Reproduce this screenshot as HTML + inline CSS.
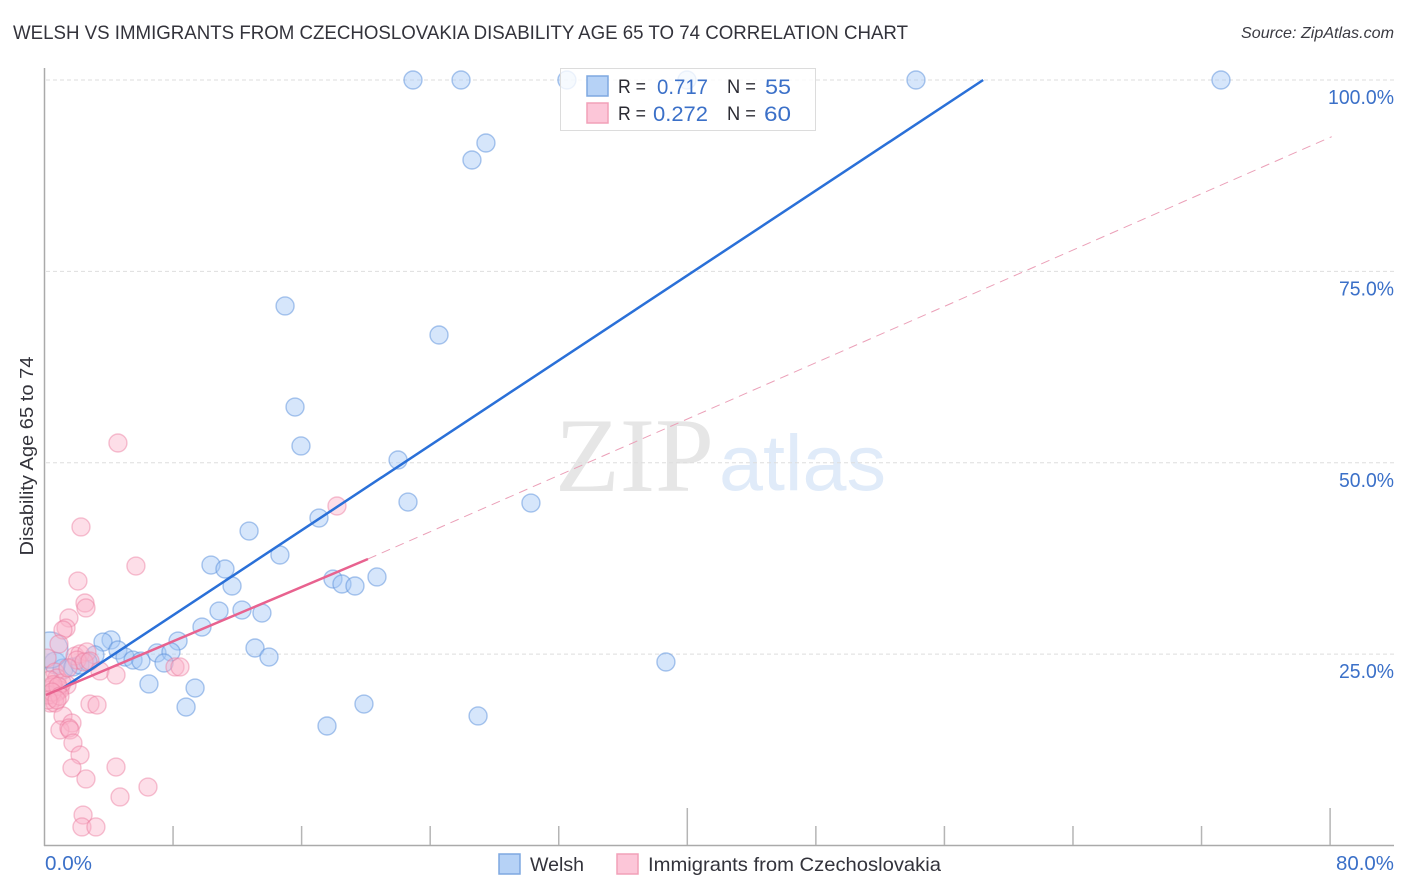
<!DOCTYPE html>
<html lang="en">
<head>
<meta charset="utf-8">
<title>Welsh vs Immigrants from Czechoslovakia Disability Age 65 to 74 Correlation Chart</title>
<style>
html,body{margin:0;padding:0;background:#fff;width:1406px;height:892px;overflow:hidden}
svg{display:block;font-family:"Liberation Sans",sans-serif}
</style>
</head>
<body>
<svg id="chart" width="1406" height="892" viewBox="0 0 1406 892" xmlns="http://www.w3.org/2000/svg">
  <defs><clipPath id="plot-clip"><rect x="45" y="60" width="1349" height="785"/></clipPath></defs>
  <text x="13" y="39" font-size="19" fill="#33333b" textLength="895" lengthAdjust="spacingAndGlyphs">WELSH VS IMMIGRANTS FROM CZECHOSLOVAKIA DISABILITY AGE 65 TO 74 CORRELATION CHART</text>
  <text x="1241" y="38" font-size="16" font-style="italic" fill="#3a3a42" textLength="153" lengthAdjust="spacingAndGlyphs">Source: ZipAtlas.com</text>
  <g>
    <text x="555" y="491" font-family="'Liberation Serif',serif" font-size="106" fill="#e6e6e6" textLength="159" lengthAdjust="spacingAndGlyphs">ZIP</text>
    <text x="719" y="490" font-size="79" fill="#e0ebf9" textLength="167" lengthAdjust="spacingAndGlyphs">atlas</text>
  </g>
  <g id="grid"></g>
  <g id="points" clip-path="url(#plot-clip)"></g>
  <g id="trends"></g>
  <g id="axes"></g>
  <text transform="translate(33 456) rotate(-90)" font-size="18.5" fill="#33333b" text-anchor="middle" textLength="199" lengthAdjust="spacingAndGlyphs">Disability Age 65 to 74</text>

  <g>
    <rect x="560.5" y="68.5" width="255" height="62" fill="#fff" fill-opacity="0.78" stroke="#dcdcdc"/>
    <rect x="587" y="76" width="21" height="20" fill="#b6d2f6" stroke="#7ea8e0" stroke-width="1.5"/>
    <rect x="587" y="103" width="21" height="20" fill="#fcc6d8" stroke="#f2a0b8" stroke-width="1.5"/>
    <text x="618" y="93" font-size="19.5" fill="#2b2b33" textLength="28" lengthAdjust="spacingAndGlyphs">R =</text>
    <text x="657" y="94" font-size="21.5" fill="#3b70c8" textLength="51" lengthAdjust="spacingAndGlyphs">0.717</text>
    <text x="727" y="93" font-size="19.5" fill="#2b2b33" textLength="29" lengthAdjust="spacingAndGlyphs">N =</text>
    <text x="765" y="94" font-size="21.5" fill="#3b70c8" textLength="26" lengthAdjust="spacingAndGlyphs">55</text>
    <text x="618" y="120" font-size="19.5" fill="#2b2b33" textLength="28" lengthAdjust="spacingAndGlyphs">R =</text>
    <text x="653" y="121" font-size="21.5" fill="#3b70c8" textLength="55" lengthAdjust="spacingAndGlyphs">0.272</text>
    <text x="727" y="120" font-size="19.5" fill="#2b2b33" textLength="29" lengthAdjust="spacingAndGlyphs">N =</text>
    <text x="764" y="121" font-size="21.5" fill="#3b70c8" textLength="27" lengthAdjust="spacingAndGlyphs">60</text>
  </g>

  <g>
    <g>
      <rect x="499" y="854" width="21" height="20" fill="#b6d2f6" stroke="#7ea8e0" stroke-width="1.5"/>
      <text x="530" y="871" font-size="19.5" fill="#33333b" textLength="54" lengthAdjust="spacingAndGlyphs">Welsh</text>
    </g>
    <g>
      <rect x="617" y="854" width="21" height="20" fill="#fcc6d8" stroke="#f2a0b8" stroke-width="1.5"/>
      <text x="648" y="871" font-size="19.5" fill="#33333b" textLength="293" lengthAdjust="spacingAndGlyphs">Immigrants from Czechoslovakia</text>
    </g>
  </g>
</svg>
<script>
const yTickValues = [25, 50, 75, 100];
const yTickLabels = ["25.0%", "50.0%", "75.0%", "100.0%"];
const xTickValues = [0, 8, 16, 24, 32, 40, 48, 56, 64, 72, 80];
const xEdgeLabels = ["0.0%", "80.0%"];
const welshX = [22.93,25.92,32.51,39.98,54.23,73.21,27.47,26.60,14.97,24.55,15.59,15.96,22.0,22.62,30.27,17.08,12.73,14.65,10.36,11.23,11.67,17.95,18.51,19.32,20.69,10.86,12.29,13.53,9.80,8.31,4.14,3.64,4.57,5.01,5.51,6.0,7.0,7.87,7.44,3.14,6.5,9.37,8.81,13.1,13.97,38.67,19.88,26.98,17.58,0.65,1.15,1.77,2.21,2.71,0.34];
const welshY = [100,100,100,100,100,100,91.77,89.55,70.48,66.69,57.28,52.19,50.36,44.87,44.74,42.78,41.08,37.95,36.64,36.12,33.90,34.81,34.16,33.90,35.08,30.63,30.76,30.37,28.54,26.71,26.85,26.58,25.54,24.62,24.23,24.10,25.15,25.28,23.84,24.89,21.1,20.57,18.09,25.8,24.62,23.97,18.48,16.92,15.61,23.84,23.06,23.32,23.58,23.97,25.54];
const welshWeight = [1,1,1,1,1,1,1,1,1,1,1,1,1,1,1,1,1,1,1,1,1,1,1,1,1,1,1,1,1,1,1,1,1,1,1,1,1,1,1,1,1,1,1,1,1,1,1,1,1,1.2,1.1,1,1,1,2];
const czechX = [4.57,18.2,2.27,5.69,2.08,2.52,2.58,1.52,1.34,1.15,0.9,0.16,1.9,2.21,2.64,2.02,2.46,2.83,3.45,4.45,8.12,8.43,0.65,0.78,0.34,1.4,0.34,0.96,0.47,0.78,0.65,0.34,0.65,0.47,1.09,0.22,2.83,3.27,1.15,1.71,0.96,1.52,1.59,1.77,2.21,1.71,2.58,4.45,6.44,4.7,2.4,2.33,3.2,0.53,0.84,0.47,0.96,0.22,0.78,1.46];
const czechY = [52.58,44.35,41.61,36.51,34.55,31.68,31.03,29.72,28.41,28.15,26.32,24.49,24.75,25.02,25.28,24.23,23.97,24.1,22.8,22.27,23.32,23.32,22.66,21.88,21.62,20.97,20.31,20.31,19.66,20.05,19.27,18.61,18.61,20.71,21.23,19.66,18.48,18.35,16.92,16.0,15.09,15.35,15.09,13.39,11.82,10.12,8.69,10.25,7.64,6.34,3.98,2.42,2.42,21.0,20.8,20.05,19.5,19.0,19.0,23.2];
const welshTrendX = [1.15, 58.41];
const welshTrendY = [20.58, 100];
const czechSolidX = [0.09, 20.13];
const czechSolidY = [19.66, 37.43];
const czechDashX = [20.13, 80.1];
const czechDashY = [37.43, 92.6];

const sx = v => 44.5 + v * 16.07;
const sy = v => 845.5 - v * 7.655;
const NS = "http://www.w3.org/2000/svg";
function make(tag, parent, attrs, txt) {
  const el = document.createElementNS(NS, tag);
  for (const k in attrs) el.setAttribute(k, attrs[k]);
  if (txt !== undefined) el.textContent = txt;
  parent.appendChild(el);
  return el;
}
const grid = document.getElementById("grid");
const axes = document.getElementById("axes");
const points = document.getElementById("points");
const trends = document.getElementById("trends");

yTickValues.forEach((v, i) => {
  const g = make("line", grid, {x1: 46, x2: 1394, y1: sy(v), y2: sy(v), stroke: "#dedede", "stroke-width": 1, "stroke-dasharray": "4 3"});
  
  
  const t = make("text", axes, {x: 1394, y: sy(v) + 24, "font-size": 20, fill: "#3b70c8", "text-anchor": "end", textLength: yTickLabels[i].length * 11, lengthAdjust: "spacingAndGlyphs"}, yTickLabels[i]);
  
  
});

const yAxis = make("line", axes, {x1: 44.5, x2: 44.5, y1: 68, y2: 846, stroke: "#aaa", "stroke-width": 1.5});


const xAxis = make("line", axes, {x1: 44, x2: 1394, y1: 845.5, y2: 845.5, stroke: "#aaa", "stroke-width": 1.5});


xTickValues.forEach(v => {
  if (v === 0) return;
  const top = v % 40 === 0 ? 808 : 826;
  const tk = make("line", axes, {x1: sx(v), x2: sx(v), y1: top, y2: 845, stroke: "#b5b5b5", "stroke-width": 1.5});
  
  
});
const xl0 = make("text", axes, {x: 45, y: 870, "font-size": 20, fill: "#3b70c8", textLength: 47, lengthAdjust: "spacingAndGlyphs"}, xEdgeLabels[0]);


const xl1 = make("text", axes, {x: 1394, y: 870, "font-size": 20, fill: "#3b70c8", "text-anchor": "end", textLength: 58, lengthAdjust: "spacingAndGlyphs"}, xEdgeLabels[1]);



welshX.forEach((v, i) => {
  const c = make("circle", points, {cx: sx(v), cy: sy(welshY[i]), r: 9 * welshWeight[i], fill: "#a5c8f7", "fill-opacity": 0.45, stroke: "#5a90dc", "stroke-opacity": 0.5, "stroke-width": 1.4});
  
  
});
czechX.forEach((v, i) => {
  const c = make("circle", points, {cx: sx(v), cy: sy(czechY[i]), r: 9, fill: "#fab0c8", "fill-opacity": 0.42, stroke: "#ea7a9e", "stroke-opacity": 0.45, "stroke-width": 1.4});
  
  
});

const l1 = make("line", trends, {x1: sx(welshTrendX[0]), y1: sy(welshTrendY[0]), x2: sx(welshTrendX[1]), y2: sy(welshTrendY[1]), stroke: "#2a70d8", "stroke-width": 2.5});


const l2 = make("line", trends, {x1: sx(czechSolidX[0]), y1: sy(czechSolidY[0]), x2: sx(czechSolidX[1]), y2: sy(czechSolidY[1]), stroke: "#e8628f", "stroke-width": 2.5});


const l3 = make("line", trends, {x1: sx(czechDashX[0]), y1: sy(czechDashY[0]), x2: sx(czechDashX[1]), y2: sy(czechDashY[1]), stroke: "#eba0b8", "stroke-width": 1, "stroke-dasharray": "9 6"});


</script>
</body>
</html>
